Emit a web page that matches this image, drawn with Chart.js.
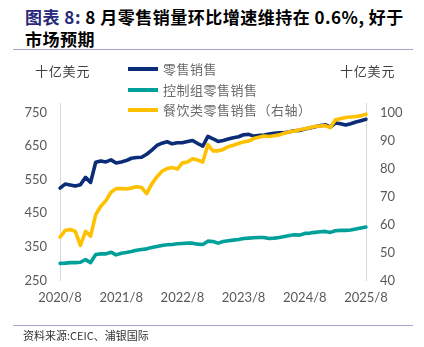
<!DOCTYPE html>
<html><head><meta charset="utf-8">
<script src="https://cdn.jsdelivr.net/npm/chart.js@4.4.1/dist/chart.umd.min.js"></script>
<style>
html,body{margin:0;padding:0;background:#fff;}
#wrap{position:relative;width:424px;height:347px;overflow:hidden;font-family:"Noto Sans CJK SC",sans-serif;}
#title{position:absolute;left:25px;top:6px;font-size:17px;font-weight:bold;line-height:22px;color:#000;white-space:nowrap;letter-spacing:0.5px;}
#title .lead{color:#28287a;}
.rule{position:absolute;left:13px;width:400px;height:0;border-top:1.5px solid #a7a3cf;}
#c{position:absolute;left:0;top:0;}
.unit{position:absolute;top:62px;font-size:13px;line-height:18px;color:#404040;letter-spacing:0.8px;}
#legend{position:absolute;left:128px;top:59px;}
.li{height:20.5px;display:flex;align-items:center;}
.sw{width:30px;height:4px;margin-right:5px;}
.lt{font-size:13px;color:#6a6a6a;letter-spacing:0.5px;line-height:18px;}
#src{position:absolute;left:23px;top:327px;font-size:11px;color:#333;line-height:16px;}
</style></head>
<body>
<div id="wrap">
  <div id="title"><span class="lead">图表 8:</span> 8 月零售销量环比增速维持在 0.6%, 好于<br>市场预期</div>
  <div class="rule" style="top:49px"></div>
  <canvas id="c" width="424" height="347"></canvas>
  <div class="unit" style="left:35px">十亿美元</div>
  <div class="unit" style="left:340px">十亿美元</div>
  <div id="legend"></div>
  <div class="rule" style="top:325px"></div>
  <div id="src">资料来源:CEIC、浦银国际</div>
</div>
<script>
const months = ['2020/8','2020/9','2020/10','2020/11','2020/12',
'2021/1','2021/2','2021/3','2021/4','2021/5','2021/6','2021/7','2021/8','2021/9','2021/10','2021/11','2021/12',
'2022/1','2022/2','2022/3','2022/4','2022/5','2022/6','2022/7','2022/8','2022/9','2022/10','2022/11','2022/12',
'2023/1','2023/2','2023/3','2023/4','2023/5','2023/6','2023/7','2023/8','2023/9','2023/10','2023/11','2023/12',
'2024/1','2024/2','2024/3','2024/4','2024/5','2024/6','2024/7','2024/8','2024/9','2024/10','2024/11','2024/12',
'2025/1','2025/2','2025/3','2025/4','2025/5','2025/6','2025/7','2025/8'];

// 零售销售 (十亿美元, 左轴)
const retailSales = [525,537,534,531,535,557,542,602,606,603,609,600,603,607,614,616,617,626,638,652,659,663,657,660,660,664,667,658,650,679,672,664,667,671,675,678,684,685,680,682,683,686,688,690,690,693,696,697,701,704,708,711,714,707,719,717,713,717,722,726,730];
// 控制组零售销售 (十亿美元, 左轴)
const controlGroup = [300.6,301.5,303,303,304,312,303,327,329,329,334,326,331,333,336,340,342,344,348,351,354,356,357,359,360,361,361,358,357,367,366,361,366,368,370,372,375,376,377,378,378,375,376,378,381,384,386,385,390,391,393,395,396,393,398,399,399,400,403,406,409];
// 餐饮类零售销售 (十亿美元, 右轴)
const foodService = [55.5,57.8,58.2,57.5,52.5,57.5,55.8,63.5,66.5,68.5,71.5,72.8,72.8,72.7,73.0,73.5,73.2,71.0,74.5,77.0,79.0,80.0,80.3,79.8,82.0,82.3,83.5,83.0,82.3,88.5,86.3,86.3,86.8,87.8,88.3,88.9,89.5,89.8,90.7,91.2,91.6,91.4,91.7,92.0,92.6,93.1,93.4,93.8,94.2,94.6,95.0,95.2,95.3,94.6,97.4,97.8,98.2,98.4,98.6,98.8,99.4];

const leftTicks = [250,300,350,400,450,500,550,600,650,700,750];
const rightTicks = [40,50,60,70,80,90,100];
const xTickLabels = ['2020/8','2021/8','2022/8','2023/8','2024/8','2025/8'];

const seriesNames = ['零售销售','控制组零售销售','餐饮类零售销售（右轴）'];
const seriesColors = ['#0b2d78','#00a09a','#ffc000'];

const tickFont = {family:'Lato, "Liberation Sans", sans-serif', size:13};
const tickColor = '#595959';

const ds = [
  {label:seriesNames[0], data:retailSales, borderColor:seriesColors[0], yAxisID:'yL', order:1},
  {label:seriesNames[1], data:controlGroup, borderColor:seriesColors[1], yAxisID:'yL', order:2},
  {label:seriesNames[2], data:foodService, borderColor:seriesColors[2], yAxisID:'yR', order:0}
];

new Chart(document.getElementById('c'), {
  type:'line',
  data:{labels:months, datasets:ds},
  options:{
    responsive:false, animation:false,
    layout:{padding:{top:103,left:0,right:0,bottom:31}},
    elements:{point:{radius:0}, line:{borderWidth:3.6, tension:0, borderJoinStyle:'round', borderCapStyle:'round'}},
    plugins:{legend:{display:false}, tooltip:{enabled:false}},
    scales:{
      x:{
        offset:false,
        grid:{display:false, drawTicks:false},
        border:{display:false},
        ticks:{autoSkip:false, maxRotation:0, minRotation:0, padding:10, color:tickColor, font:tickFont,
          callback:(v,i)=> xTickLabels.includes(months[i]) ? months[i] : ''}
      },
      yL:{
        position:'left', min:leftTicks[0], max:778.6,
        grid:{display:false, drawTicks:false},
        border:{display:true, color:'#d9d9d9', width:1},
        ticks:{stepSize:50, padding:13, color:tickColor, font:tickFont},
        afterBuildTicks:s=>{ s.ticks = leftTicks.map(v=>({value:v})); },
        afterFit:s=>{ s.width = 60; }
      },
      yR:{
        position:'right', min:rightTicks[0], max:103.4,
        grid:{display:false, drawTicks:false},
        border:{display:true, color:'#d9d9d9', width:1},
        ticks:{stepSize:10, padding:14, color:tickColor, font:tickFont},
        afterBuildTicks:s=>{ s.ticks = rightTicks.map(v=>({value:v})); },
        afterFit:s=>{ s.width = 58; }
      }
    }
  }
});

const lg = document.getElementById('legend');
seriesNames.forEach((n,i)=>{
  const row = document.createElement('div'); row.className='li';
  const sw = document.createElement('div'); sw.className='sw'; sw.style.background=seriesColors[i];
  const t = document.createElement('div'); t.className='lt'; t.textContent=n;
  row.appendChild(sw); row.appendChild(t); lg.appendChild(row);
});
</script>
</body></html>
